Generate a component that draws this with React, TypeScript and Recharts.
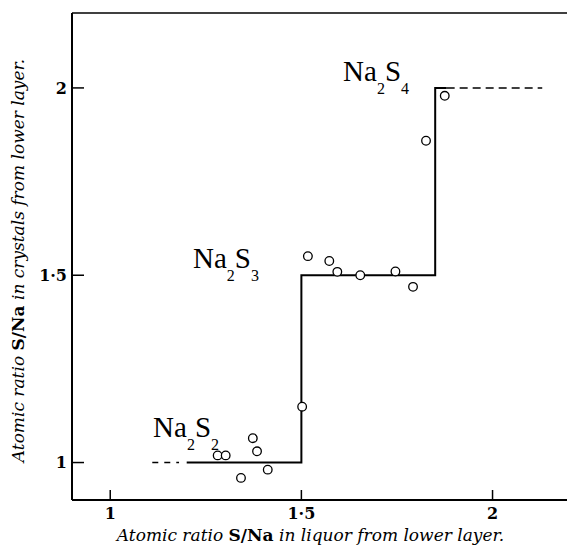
import React from 'react';
import {
  ScatterChart,
  Scatter,
  XAxis,
  YAxis,
  ReferenceLine,
  ReferenceDot,
  Label
} from 'recharts';

// measured S/Na ratios: liquor (x) vs crystals (y)
const liquorRatio = [1.281, 1.302, 1.342, 1.373, 1.384, 1.412, 1.502, 1.517, 1.573, 1.594, 1.654, 1.746, 1.792, 1.826, 1.875];
const crystalRatio = [1.019, 1.019, 0.959, 1.065, 1.03, 0.981, 1.149, 1.551, 1.538, 1.509, 1.5, 1.51, 1.469, 1.859, 1.979];

// the stepped line (solid part) and its dashed ends
const stepX = [1.2, 1.5, 1.5, 1.85, 1.85, 1.88];
const stepY = [1, 1, 1.5, 1.5, 2, 2];
const lowDashX = [1.11, 1.18];
const lowDashY = [1, 1];
const highDashX = [1.88, 2.13];
const highDashY = [2, 2];

const ticks = [1, 1.5, 2];
const domain: [number, number] = [0.9, 2.2];

// compound labels, anchored at the baseline start of "Na"
const compounds = [
  { x: 1.609, y: 2.018, s: '4' },
  { x: 1.2165, y: 1.519, s: '3' },
  { x: 1.112, y: 1.068, s: '2' }
];

const zip = (xs: number[], ys: number[]) => xs.map((x, i) => ({ x, y: ys[i] }));

const points = zip(liquorRatio, crystalRatio);
const step = zip(stepX, stepY);
const lowDash = zip(lowDashX, lowDashY);
const highDash = zip(highDashX, highDashY);

const SERIF = '"DejaVu Serif", "Liberation Serif", serif';
const tickStyle = { fill: '#000', fontSize: 16, fontWeight: 'bold', fontFamily: SERIF };

const fmt = (v: number) => String(v).replace('.', '·');

const OpenCircle = (props: any) => (
  <circle cx={props.cx} cy={props.cy} r={4.3} fill="#fff" stroke="#000" strokeWidth={1.3} />
);

const NoShape = () => <g />;

const Formula = (sub: string) => (props: any) => (
  <text x={props.cx} y={props.cy} fontFamily='"Liberation Serif", serif' fontSize={29} fill="#000">
    Na
    <tspan fontSize={16} dy={13}>2</tspan>
    <tspan dy={-13}>S</tspan>
    <tspan fontSize={16} dy={13}>{sub}</tspan>
  </text>
);

const XTitle = (props: any) => {
  const vb = props.viewBox;
  return (
    <text x={vb.x + vb.width / 2 - 10} y={vb.y + 41} textAnchor="middle" fontFamily={SERIF} fontSize={17} fill="#000">
      <tspan fontStyle="italic">Atomic ratio </tspan>
      <tspan fontWeight="bold">S/Na</tspan>
      <tspan fontStyle="italic"> in liquor from lower layer.</tspan>
    </text>
  );
};

const YTitle = (props: any) => {
  const vb = props.viewBox;
  const x = vb.x + 24;
  const y = vb.y + vb.height / 2 + 4;
  return (
    <text x={x} y={y} transform={`rotate(-90, ${x}, ${y})`} textAnchor="middle" fontFamily={SERIF} fontSize={17} fill="#000">
      <tspan fontStyle="italic">Atomic ratio </tspan>
      <tspan fontWeight="bold">S/Na</tspan>
      <tspan fontStyle="italic"> in crystals from lower layer.</tspan>
    </text>
  );
};

export default function App() {
  return (
    <div style={{ position: 'absolute', left: 0, top: 0, background: '#fff' }}>
      <ScatterChart width={567} height={553} margin={{ top: 13, right: -2, bottom: 0, left: 0 }}>
        <XAxis
          type="number"
          dataKey="x"
          domain={domain}
          allowDataOverflow
          ticks={ticks}
          tickFormatter={fmt}
          tickSize={-10}
          tickMargin={18}
          height={53}
          axisLine={{ stroke: '#000', strokeWidth: 2 }}
          tickLine={{ stroke: '#000', strokeWidth: 1.5 }}
          tick={tickStyle}
        >
          <Label content={<XTitle />} />
        </XAxis>
        <YAxis
          type="number"
          dataKey="y"
          domain={domain}
          allowDataOverflow
          ticks={ticks}
          tickFormatter={fmt}
          tickSize={-12}
          tickMargin={17}
          width={72}
          axisLine={{ stroke: '#000', strokeWidth: 2 }}
          tickLine={{ stroke: '#000', strokeWidth: 1.5 }}
          tick={tickStyle}
        >
          <Label content={<YTitle />} />
        </YAxis>
        <ReferenceLine y={2.2} stroke="#000" strokeWidth={1.5} />
        <Scatter data={step} line={{ stroke: '#000', strokeWidth: 2 }} shape={NoShape} isAnimationActive={false} />
        <Scatter data={lowDash} line={{ stroke: '#000', strokeWidth: 1.5, strokeDasharray: '6 6' }} shape={NoShape} isAnimationActive={false} />
        <Scatter data={highDash} line={{ stroke: '#000', strokeWidth: 1.5, strokeDasharray: '8 5' }} shape={NoShape} isAnimationActive={false} />
        <Scatter data={points} shape={OpenCircle} isAnimationActive={false} />
        {compounds.map((c) => (
          <ReferenceDot key={c.s} x={c.x} y={c.y} r={0} shape={Formula(c.s)} />
        ))}
      </ScatterChart>
    </div>
  );
}
